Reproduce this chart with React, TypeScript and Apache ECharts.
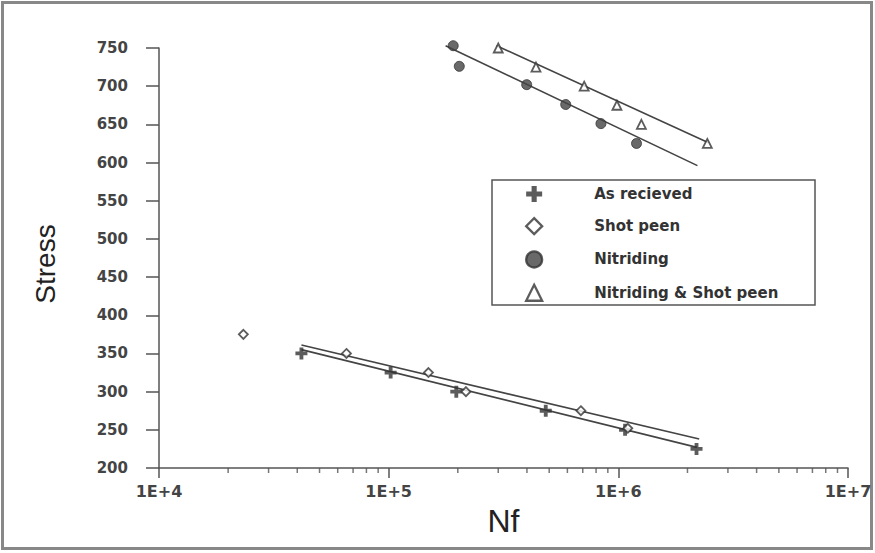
import React, { useEffect, useRef } from "react";
import * as echarts from "echarts";

// ---- Data ----
const seriesNames = ["As recieved", "Shot peen", "Nitriding", "Nitriding & Shot peen"];

const asReceivedN = [4.17e4, 1.02e5, 1.97e5, 4.83e5, 1.07e6, 2.19e6];
const asReceivedS = [350, 325, 300, 275, 250, 225];

const shotPeenN = [2.33e4, 6.55e4, 1.49e5, 2.17e5, 6.87e5, 1.1e6];
const shotPeenS = [375, 350, 325, 300, 275, 252];

const nitridingN = [1.91e5, 2.03e5, 3.99e5, 5.9e5, 8.4e5, 1.2e6];
const nitridingS = [753, 726, 702, 676, 651, 625];

const nspN = [3.0e5, 4.38e5, 7.1e5, 9.86e5, 1.26e6, 2.44e6];
const nspS = [750, 725, 700, 675, 650, 625];

// fitted trend lines (end points)
const asReceivedFitN = [4.17e4, 2.2e6];
const asReceivedFitS = [355, 227];
const shotPeenFitN = [4.17e4, 2.25e6];
const shotPeenFitS = [361, 238];
const nitridingFitN = [1.77e5, 2.21e6];
const nitridingFitS = [753, 596];
const nspFitN = [2.95e5, 2.47e6];
const nspFitS = [753, 626];

// axis ticks
const xTickLabels: Record<number, string> = { 4: "1E+4", 5: "1E+5", 6: "1E+6", 7: "1E+7" };
const minorTickValues = [
  2e4, 3e4, 4e4, 5e4, 6e4, 7e4, 8e4, 9e4,
  2e5, 3e5, 4e5, 5e5, 6e5, 7e5, 8e5, 9e5,
  2e6, 3e6, 4e6, 5e6, 6e6, 7e6, 8e6, 9e6,
];
const yMin = 200;
const yMax = 750;
const yInterval = 50;

const zip = (a: number[], b: number[]) => a.map((v, i) => [v, b[i]]);

const INK = "#333";
const AXIS = "#555";
const plusPath = "path://M3.4,0H6.6V3.4H10V6.6H6.6V10H3.4V6.6H0V3.4H3.4Z";

function buildOption() {
  const fitLine = (name: string, n: number[], s: number[]) => ({
    type: "line",
    name,
    data: zip(n, s),
    symbol: "none",
    lineStyle: { color: "#444", width: 1.6 },
    silent: true,
    clip: false,
    z: 2,
  });

  return {
    animation: false,
    backgroundColor: "#fff",
    grid: { left: 159, right: 27, top: 48, bottom: 85, containLabel: false },
    legend: {
      orient: "vertical",
      left: 525,
      top: 186,
      padding: 0,
      itemWidth: 16,
      itemHeight: 16,
      itemGap: 15,
      symbolKeepAspect: true,
      selectedMode: false,
      data: seriesNames,
      itemStyle: { borderWidth: 2.3 },
      textStyle: {
        fontFamily: "DejaVu Sans",
        fontWeight: "bold",
        fontSize: 15,
        color: "#333",
        padding: [0, 0, 0, 47],
      },
    },
    graphic: [
      {
        type: "rect",
        shape: { x: 2.5, y: 2.5, width: 869, height: 546 },
        style: { fill: "none", stroke: "#888", lineWidth: 3 },
        silent: true,
        z: 0,
      },
      {
        type: "rect",
        shape: { x: 492, y: 180, width: 323, height: 125 },
        style: { fill: "#fff", stroke: "#555", lineWidth: 1.5 },
        silent: true,
        z: 0,
      },
    ],
    xAxis: {
      type: "log",
      logBase: 10,
      min: 1e4,
      max: 1e7,
      name: "Nf",
      nameLocation: "middle",
      nameGap: 37,
      nameTextStyle: { fontFamily: "Liberation Sans", fontSize: 32, color: "#222" },
      axisLine: { show: true, lineStyle: { color: AXIS, width: 1.5 } },
      axisTick: { show: true, inside: false, length: 10, lineStyle: { color: AXIS, width: 1.5 } },
      axisLabel: {
        margin: 15,
        fontFamily: "DejaVu Sans",
        fontWeight: "bold",
        fontSize: 16,
        color: "#444",
        formatter: (v: number) => xTickLabels[Math.round(Math.log10(v))] ?? "",
      },
      splitLine: { show: false },
    },
    yAxis: {
      type: "value",
      min: yMin,
      max: yMax,
      interval: yInterval,
      name: "Stress",
      nameLocation: "middle",
      nameGap: 100,
      nameTextStyle: { fontFamily: "Liberation Sans", fontSize: 28, color: "#222", padding: [0, 0, 0, -12] },
      axisLine: { show: true, lineStyle: { color: AXIS, width: 1.5 } },
      axisTick: { show: true, inside: false, length: 13, lineStyle: { color: AXIS, width: 1.5 } },
      axisLabel: {
        margin: 31,
        fontFamily: "DejaVu Sans",
        fontWeight: "bold",
        fontSize: 15,
        color: "#444",
      },
      splitLine: { show: false },
    },
    series: [
      fitLine("fitAsReceived", asReceivedFitN, asReceivedFitS),
      fitLine("fitShotPeen", shotPeenFitN, shotPeenFitS),
      fitLine("fitNitriding", nitridingFitN, nitridingFitS),
      fitLine("fitNSP", nspFitN, nspFitS),
      {
        type: "scatter",
        name: seriesNames[0],
        data: zip(asReceivedN, asReceivedS),
        symbol: plusPath,
        symbolSize: 12,
        itemStyle: { color: INK },
        clip: false,
        z: 3,
        silent: true,
      },
      {
        type: "scatter",
        name: seriesNames[1],
        data: zip(shotPeenN, shotPeenS),
        symbol: "diamond",
        symbolSize: 9,
        itemStyle: { color: "#fff", borderColor: INK, borderWidth: 1.8 },
        clip: false,
        z: 3,
        silent: true,
      },
      {
        type: "scatter",
        name: seriesNames[2],
        data: zip(nitridingN, nitridingS),
        symbol: "circle",
        symbolSize: 10,
        itemStyle: { color: "#444", borderColor: "#333", borderWidth: 1 },
        clip: false,
        z: 3,
        silent: true,
      },
      {
        type: "scatter",
        name: seriesNames[3],
        data: zip(nspN, nspS),
        symbol: "triangle",
        symbolSize: 9,
        itemStyle: { color: "#fff", borderColor: INK, borderWidth: 1.8 },
        clip: false,
        z: 3,
        silent: true,
      },
      {
        type: "scatter",
        name: "minorTicks",
        data: minorTickValues.map((v) => [v, yMin]),
        symbol: "rect",
        symbolSize: [1.5, 5],
        symbolOffset: [0, 2.5],
        itemStyle: { color: AXIS },
        clip: false,
        silent: true,
        z: 1,
      },
    ],
  };
}

export default function App() {
  const ref = useRef<HTMLDivElement>(null);
  useEffect(() => {
    const chart = echarts.init(ref.current!, null, { renderer: "svg" });
    chart.setOption(buildOption() as any);
    return () => chart.dispose();
  }, []);
  return (
    <div
      ref={ref}
      style={{ position: "fixed", left: 0, top: 0, width: 875, height: 553, background: "#fff" }}
    />
  );
}
